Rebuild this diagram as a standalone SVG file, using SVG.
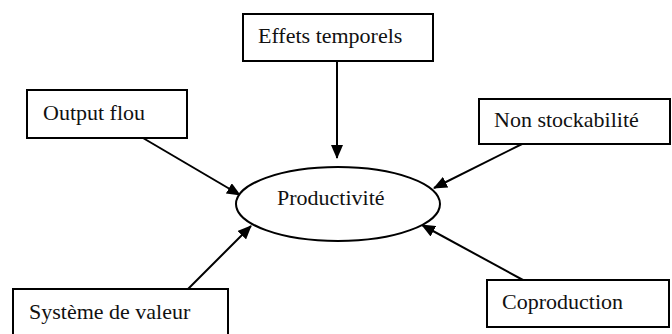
<svg xmlns="http://www.w3.org/2000/svg" width="672" height="334" viewBox="0 0 672 334">
<style>
.box{fill:#fff;stroke:#000;stroke-width:2}
.lbl{font-family:"Liberation Serif","Times New Roman",serif;font-size:22px;fill:#111}
.edge{stroke:#000;stroke-width:2;fill:none;marker-end:url(#ah)}
</style>
<defs>
<marker id="ah" markerUnits="userSpaceOnUse" markerWidth="14" markerHeight="12" refX="13" refY="6" orient="auto">
<path d="M0,0 L14,6 L0,12 Z" fill="#000"/>
</marker>
</defs>
<rect width="672" height="334" fill="#fff"/>
<g id="connectors">
<line class="edge" x1="337" y1="61" x2="337" y2="158"/>
<line class="edge" x1="143" y1="138" x2="240" y2="195"/>
<line class="edge" x1="522" y1="144" x2="434" y2="188"/>
<line class="edge" x1="188" y1="289" x2="251" y2="226"/>
<line class="edge" x1="523" y1="280" x2="422" y2="225"/>
</g>
<g id="productivite">
<ellipse cx="338" cy="204" rx="102" ry="37" fill="#fff" stroke="#000" stroke-width="2"/>
<text class="lbl" x="277" y="205">Productivité</text>
</g>
<g id="effets">
<rect class="box" x="243" y="14" width="190" height="47"/>
<text class="lbl" x="258" y="43">Effets temporels</text>
</g>
<g id="output">
<rect class="box" x="27" y="90" width="160" height="48"/>
<text class="lbl" x="43" y="120">Output flou</text>
</g>
<g id="nonstock">
<rect class="box" x="479" y="99" width="191" height="45"/>
<text class="lbl" x="494" y="127">Non stockabilité</text>
</g>
<g id="systeme">
<rect class="box" x="13" y="289" width="215" height="55"/>
<text class="lbl" x="29" y="319">Système de valeur</text>
</g>
<g id="coproduction">
<rect class="box" x="487" y="280" width="182" height="47"/>
<text class="lbl" x="502" y="309">Coproduction</text>
</g>
</svg>
